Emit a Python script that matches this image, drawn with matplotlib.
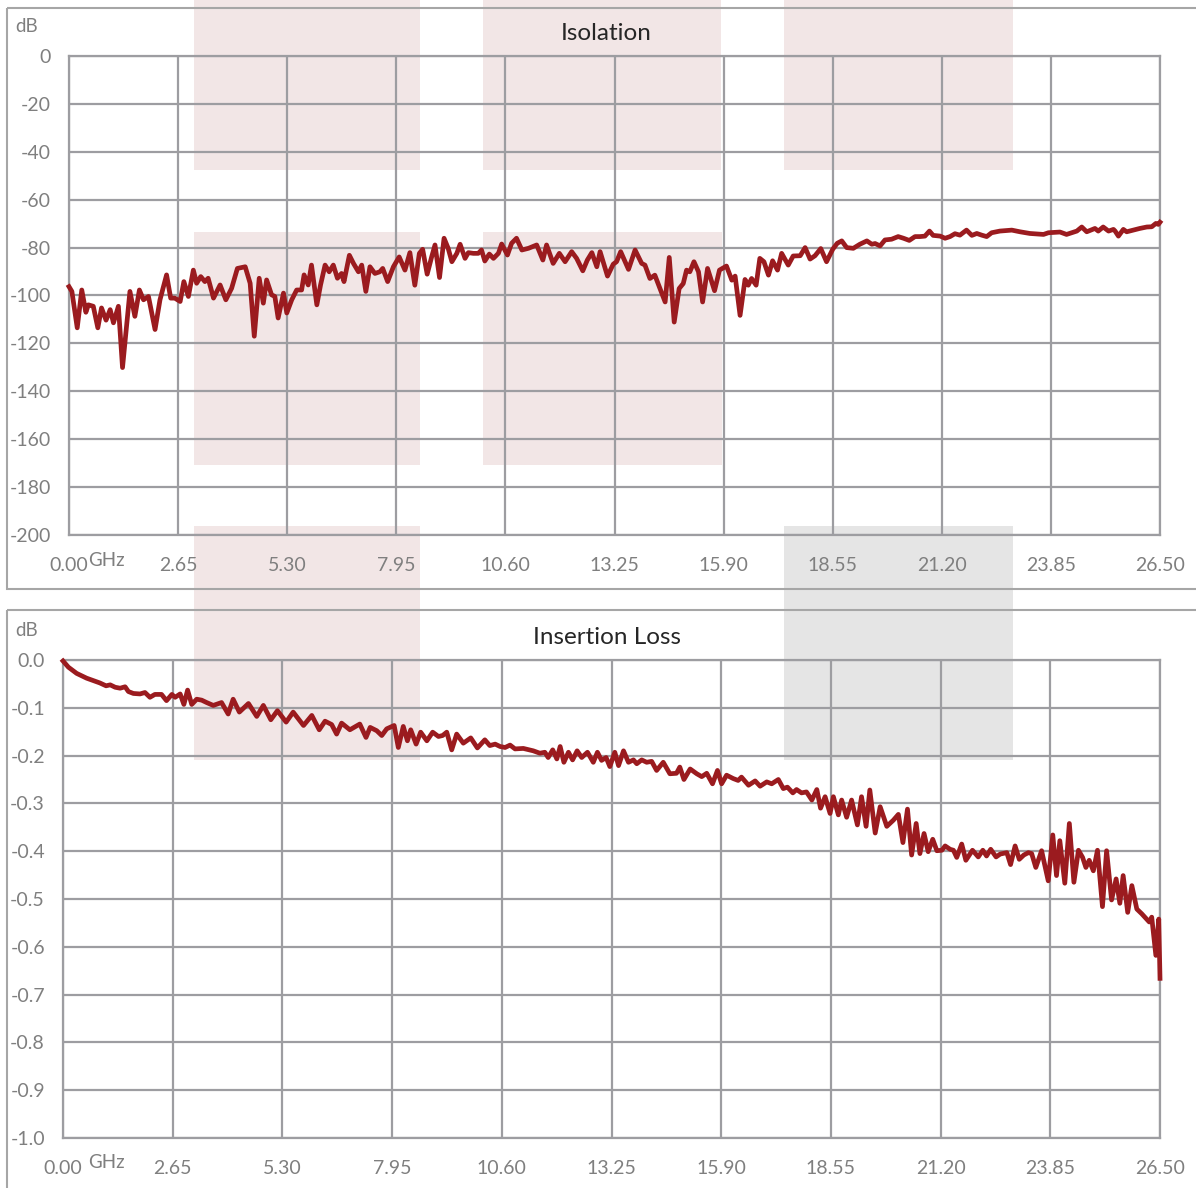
import matplotlib
matplotlib.use("Agg")
import matplotlib.pyplot as plt
from matplotlib.patches import Rectangle

plt.rcParams['font.family'] = ['Lato', 'DejaVu Sans']

# ---------------- data ----------------
x_ticks = [0.00, 2.65, 5.30, 7.95, 10.60, 13.25, 15.90, 18.55, 21.20, 23.85, 26.50]
x_tick_labels = ['0.00', '2.65', '5.30', '7.95', '10.60', '13.25', '15.90',
                 '18.55', '21.20', '23.85', '26.50']
iso_y_ticks = [0, -20, -40, -60, -80, -100, -120, -140, -160, -180, -200]
il_y_ticks = [0.0, -0.1, -0.2, -0.3, -0.4, -0.5, -0.6, -0.7, -0.8, -0.9, -1.0]

iso_freq = [0.00, 0.07, 0.20, 0.31, 0.41, 0.47, 0.59, 0.70, 0.79, 0.90, 1.00, 1.08,
            1.20, 1.30, 1.48, 1.60, 1.71, 1.81, 1.93, 2.09, 2.21, 2.37, 2.47, 2.57,
            2.70, 2.79, 2.90, 3.02, 3.10, 3.20, 3.30, 3.38, 3.51, 3.67, 3.81, 3.95,
            4.09, 4.28, 4.40, 4.50, 4.62, 4.72, 4.80, 4.92, 5.00, 5.08, 5.21, 5.29,
            5.41, 5.53, 5.65, 5.71, 5.81, 5.89, 6.02, 6.11, 6.22, 6.32, 6.42, 6.52,
            6.62, 6.68, 6.81, 6.91, 7.03, 7.11, 7.21, 7.31, 7.43, 7.55, 7.62, 7.74,
            7.88, 8.02,
            8.16, 8.28, 8.40, 8.51, 8.59, 8.70, 8.81, 8.89, 9.00, 9.11, 9.21, 9.30,
            9.42, 9.50, 9.62, 9.70, 9.82, 9.94, 10.02, 10.10, 10.21, 10.31, 10.43,
            10.51, 10.65, 10.75, 10.87, 11.00, 11.16, 11.36, 11.51, 11.60, 11.76,
            11.91, 12.05, 12.21, 12.33, 12.48, 12.59, 12.70, 12.82, 12.90, 13.08,
            13.22, 13.30, 13.40, 13.59, 13.75, 13.91, 13.99, 14.11, 14.23, 14.48,
            14.58, 14.70, 14.82, 14.92, 15.00, 15.08, 15.18, 15.29, 15.39, 15.51,
            15.68, 15.80, 15.97, 16.10, 16.18, 16.30, 16.42, 16.50, 16.58, 16.69,
            16.78, 16.88, 16.99, 17.09, 17.21, 17.31, 17.47, 17.59,
            17.76, 17.88, 18.00, 18.12, 18.26, 18.40, 18.55, 18.66, 18.77, 18.89,
            19.05, 19.21, 19.38, 19.50, 19.58, 19.70, 19.82, 19.98, 20.14, 20.27,
            20.41, 20.55, 20.67, 20.79, 20.90, 20.99, 21.16, 21.28, 21.40, 21.52,
            21.64, 21.80, 21.93, 22.05, 22.17, 22.29, 22.41, 22.61, 22.90, 23.10,
            23.34, 23.67, 23.79, 24.07, 24.23, 24.48, 24.60, 24.72, 24.92, 25.00,
            25.12, 25.25, 25.37, 25.41, 25.49, 25.61, 25.69, 25.85, 26.01, 26.18,
            26.30, 26.40, 26.46, 26.50]
iso_db = [-96.3, -98.3, -113.5, -97.7, -107.0, -103.9, -104.5, -113.5, -105.2, -110.3,
          -105.9, -111.4, -104.5, -130.1, -98.3, -108.7, -97.7, -101.8, -100.4, -114.2,
          -101.8, -91.4, -101.1, -101.1, -102.5, -94.2, -100.4, -89.4, -94.9, -92.1,
          -94.2, -92.8, -101.1, -95.6, -101.8, -97.0, -88.7, -88.0, -94.9, -117.0,
          -92.8, -103.2, -93.5, -99.7, -100.4, -109.4, -99.0, -107.3, -101.8, -97.7,
          -97.7, -91.4, -95.6, -87.3, -103.9, -95.6, -87.3, -90.1, -87.3, -92.8,
          -90.8, -94.2, -83.2, -86.6, -90.1, -87.3, -98.3, -88.0, -90.8, -90.1,
          -88.7, -94.2, -88.0, -83.9,
          -89.4, -82.1, -95.7, -82.4, -80.7, -91.1, -83.8, -78.9, -92.5, -76.1, -80.3,
          -85.9, -82.4, -78.6, -84.5, -82.1, -82.4, -82.4, -81.0, -85.6, -82.7, -84.5,
          -82.4, -78.5, -83.1, -78.2, -76.1, -81.0, -80.3, -78.9, -85.2, -78.9, -86.6,
          -82.4, -85.9, -81.7, -84.5, -89.7, -85.2, -82.1, -88.0, -81.7, -91.9, -86.9,
          -85.9, -81.7, -89.1, -81.0, -86.6, -87.3, -92.9, -91.5, -102.7, -84.1, -111.1,
          -97.1, -95.0, -89.4, -90.1, -85.9, -90.1, -102.7, -88.7, -98.0, -89.4, -87.7,
          -93.6, -91.9, -108.3, -93.3, -95.7, -92.9, -95.7, -84.5, -85.9, -91.5, -85.5,
          -89.4, -82.4, -87.3, -83.5,
          -83.4, -80.0, -84.8, -83.4, -80.4, -85.9, -80.7, -78.2, -77.2, -80.0, -80.3,
          -78.6, -77.2, -78.6, -78.3, -79.3, -76.8, -76.5, -75.4, -76.1, -77.0, -75.4,
          -75.4, -75.2, -73.1, -74.9, -75.2, -76.1, -75.4, -74.2, -74.8, -72.7, -74.9,
          -74.1, -74.8, -75.4, -73.8, -73.1, -72.7, -73.4, -74.1, -74.5, -73.8, -73.5,
          -74.5, -73.1, -71.4, -73.4, -72.0, -73.1, -71.4, -73.1, -72.4, -73.1, -75.2,
          -72.4, -73.4, -72.7, -72.0, -71.4, -71.3, -69.9, -70.3, -69.4]

il_freq = [0.00, 0.13, 0.33, 0.57, 0.89, 1.04, 1.14, 1.26, 1.38, 1.50, 1.58, 1.70,
           1.86, 1.98, 2.10, 2.22, 2.38, 2.50, 2.63, 2.71, 2.83, 2.92, 3.01, 3.11,
           3.23, 3.35, 3.47, 3.63, 3.83, 3.99, 4.11, 4.26, 4.48, 4.68, 4.84, 5.02,
           5.18, 5.39, 5.56, 5.81, 6.01, 6.19, 6.33, 6.49, 6.61, 6.73, 6.93, 7.17,
           7.32, 7.42, 7.58, 7.70, 7.82, 8.00, 8.10, 8.22, 8.32, 8.40, 8.53, 8.64,
           8.79, 8.93, 9.07, 9.17, 9.27, 9.39, 9.51, 9.67, 9.85, 10.01, 10.19, 10.31,
           10.44, 10.56,
           10.68, 10.80, 10.92, 11.12, 11.36, 11.52, 11.64, 11.72, 11.83, 11.93, 12.01,
           12.10, 12.21, 12.31, 12.42, 12.53, 12.67, 12.81, 12.91, 13.01, 13.12, 13.21,
           13.33, 13.42, 13.54, 13.66, 13.78, 13.86, 13.98, 14.10, 14.22, 14.34, 14.50,
           14.66, 14.82, 14.90, 15.00, 15.15, 15.31, 15.43, 15.55, 15.69, 15.81, 15.91,
           16.03, 16.19, 16.31, 16.39, 16.56, 16.72, 16.84, 17.00, 17.12, 17.28, 17.40,
           17.50, 17.63, 17.72, 17.84, 17.96, 18.09, 18.21, 18.30, 18.41, 18.53, 18.61,
           18.73, 18.81, 18.93, 19.05, 19.19, 19.29, 19.40, 19.49, 19.62, 19.74, 19.90,
           20.06, 20.18,
           20.29, 20.40, 20.50, 20.61, 20.70, 20.80, 20.90, 21.01, 21.11, 21.23, 21.31,
           21.43, 21.51, 21.59, 21.71, 21.81, 21.97, 22.11, 22.22, 22.31, 22.41, 22.54,
           22.64, 22.80, 22.89, 23.00, 23.10, 23.21, 23.32, 23.40, 23.50, 23.64, 23.80,
           23.91, 24.00, 24.08, 24.20, 24.31, 24.42, 24.53, 24.63, 24.71, 24.79, 24.89,
           24.99, 25.11, 25.21, 25.33, 25.44, 25.53, 25.61, 25.72, 25.82, 25.94, 26.06,
           26.24, 26.30, 26.40, 26.47, 26.50]
il_db = [-0.002, -0.015, -0.028, -0.038, -0.048, -0.054, -0.052, -0.057, -0.059, -0.056,
         -0.066, -0.070, -0.071, -0.068, -0.078, -0.072, -0.072, -0.085, -0.072, -0.078,
         -0.071, -0.093, -0.063, -0.093, -0.082, -0.084, -0.089, -0.095, -0.089, -0.113,
         -0.082, -0.109, -0.091, -0.118, -0.095, -0.125, -0.106, -0.130, -0.109, -0.137,
         -0.116, -0.146, -0.128, -0.135, -0.155, -0.132, -0.146, -0.134, -0.162, -0.141,
         -0.148, -0.158, -0.144, -0.137, -0.183, -0.139, -0.169, -0.146, -0.176, -0.151,
         -0.169, -0.151, -0.160, -0.158, -0.151, -0.188, -0.155, -0.174, -0.163, -0.184,
         -0.167, -0.179, -0.176, -0.181,
         -0.183, -0.178, -0.186, -0.185, -0.190, -0.195, -0.193, -0.204, -0.188, -0.207,
         -0.181, -0.214, -0.193, -0.209, -0.190, -0.204, -0.193, -0.214, -0.193, -0.210,
         -0.204, -0.223, -0.193, -0.221, -0.190, -0.214, -0.209, -0.217, -0.209, -0.214,
         -0.212, -0.231, -0.214, -0.238, -0.237, -0.224, -0.250, -0.228, -0.238, -0.244,
         -0.237, -0.259, -0.231, -0.259, -0.241, -0.248, -0.252, -0.245, -0.262, -0.253,
         -0.264, -0.255, -0.259, -0.250, -0.269, -0.266, -0.278, -0.271, -0.278, -0.276,
         -0.293, -0.271, -0.310, -0.286, -0.321, -0.286, -0.324, -0.293, -0.329, -0.293,
         -0.345, -0.286, -0.348, -0.272, -0.362, -0.307, -0.348, -0.335, -0.323,
         -0.382, -0.312, -0.408, -0.342, -0.405, -0.363, -0.401, -0.375, -0.399, -0.398,
         -0.389, -0.396, -0.398, -0.413, -0.385, -0.419, -0.398, -0.412, -0.398, -0.410,
         -0.396, -0.412, -0.406, -0.403, -0.428, -0.389, -0.417, -0.408, -0.403, -0.405,
         -0.434, -0.399, -0.462, -0.366, -0.451, -0.378, -0.467, -0.342, -0.465, -0.398,
         -0.413, -0.434, -0.419, -0.441, -0.398, -0.516, -0.399, -0.502, -0.458, -0.509,
         -0.451, -0.528, -0.472, -0.521, -0.531, -0.548, -0.538, -0.618, -0.542, -0.666]

# ---------------- styling ----------------
W, H = 1196, 1188
LINE = '#9b1b1f'
GRID = '#9d9da1'
TXT = '#7f7f7f'
PINK = '#f2e6e6'
GREY = '#e5e5e5'
FRAME = '#a6a6a6'

fig = plt.figure(figsize=(W / 100, H / 100), dpi=100)

# background layer in pixel coordinates
bg = fig.add_axes([0, 0, 1, 1], zorder=-10)
bg.set_xlim(0, W)
bg.set_ylim(H, 0)
bg.axis('off')

rects = [(194, 0, 420, 170, PINK), (483, 0, 721, 170, PINK), (784, 0, 1013, 170, PINK),
         (194, 232, 420, 465, PINK), (483, 232, 722, 465, PINK),
         (194, 526, 420, 760, PINK), (784, 526, 1013, 760, GREY)]
for x0, y0, x1, y1, c in rects:
    bg.add_patch(Rectangle((x0, y0), x1 - x0, y1 - y0, facecolor=c, edgecolor='none', zorder=0))

# panel frames (right / bottom edges run off the image)
for y0, y1 in [(8, 589), (610, 1195)]:
    bg.add_patch(Rectangle((6.5, y0), 1300, y1 - y0, facecolor='none',
                           edgecolor=FRAME, lw=1.5, zorder=1))

def style(ax, yticks, ylabels, ylim):
    ax.set_facecolor('none')
    ax.set_xlim(0, 26.5)
    ax.set_ylim(*ylim)
    ax.set_xticks(x_ticks)
    ax.set_xticklabels(x_tick_labels)
    ax.set_yticks(yticks)
    ax.set_yticklabels(ylabels)
    ax.grid(True, color=GRID, lw=1.6)
    ax.set_axisbelow(True)
    for s in ax.spines.values():
        s.set_color(GRID)
        s.set_linewidth(1.6)
    ax.tick_params(length=0, labelsize=14, labelcolor=TXT)
    ax.tick_params(axis='x', pad=16)
    ax.tick_params(axis='y', pad=13)

# Isolation panel
ax1 = fig.add_axes([69 / W, 1 - 535 / H, 1091 / W, 479 / H])
ax1.plot(iso_freq, iso_db, color=LINE, lw=3.4, solid_joinstyle='round', zorder=3, clip_on=False)
style(ax1, iso_y_ticks, [str(v) for v in iso_y_ticks], (-200, 0))

# Insertion loss panel
ax2 = fig.add_axes([63 / W, 1 - 1138 / H, 1097 / W, 478 / H])
ax2.plot(il_freq, il_db, color=LINE, lw=3.4, solid_joinstyle='round', zorder=3, clip_on=False)
style(ax2, il_y_ticks, ['%.1f' % v for v in il_y_ticks], (-1.0, 0.0))

# titles and unit labels
bg.text(606, 34, 'Isolation', ha='center', va='center', fontsize=17.5, color='#262626')
bg.text(607, 637, 'Insertion Loss', ha='center', va='center', fontsize=17.5, color='#262626')
bg.text(15, 27, 'dB', ha='left', va='center', fontsize=13.5, color=TXT)
bg.text(15, 630, 'dB', ha='left', va='center', fontsize=13.5, color=TXT)
bg.text(88, 560, 'GHz', ha='left', va='center', fontsize=13.5, color=TXT)
bg.text(88, 1163, 'GHz', ha='left', va='center', fontsize=13.5, color=TXT)

fig.savefig('out.png', dpi=100)
